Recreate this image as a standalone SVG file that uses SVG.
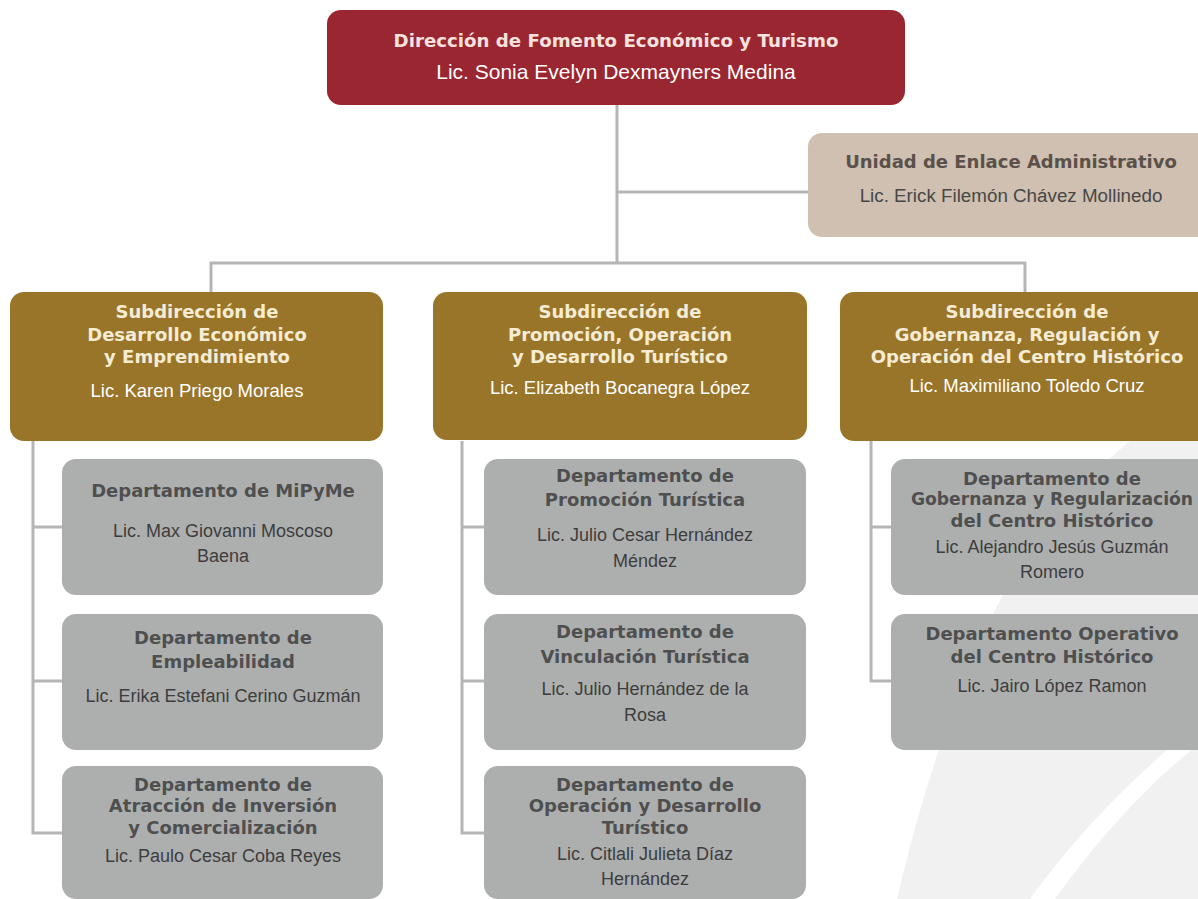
<svg xmlns="http://www.w3.org/2000/svg" width="1198" height="899" viewBox="0 0 1198 899">
<style>
.t{font-family:"DejaVu Sans",sans-serif;font-weight:bold;font-size:18px;text-anchor:middle}
.n{font-family:"Liberation Sans",Arial,sans-serif;font-size:18px;text-anchor:middle}
.top{fill:#9a2631}
.sub{fill:#99752a}
.sub .t{fill:#f6ecd4}
.sub .n{fill:#ffffff;font-size:18.5px}
.dep{fill:#adafaf}
.dep .t,.dt{fill:#4f4f4f}
.dn{fill:#3d3d3d}
.conn{fill:none;stroke:#b5b5b5;stroke-width:3}
</style>
<rect width="1198" height="899" fill="#ffffff"/>
<g id="watermark" fill="#f1f1f1">
<path d="M897,899 C925,780 960,680 1000,600 C1050,510 1120,440 1198,390 L1198,718 L1167,750 C1110,800 1065,850 1030,899 Z"/>
<path d="M1055,899 C1090,850 1140,790 1198,745 L1198,899 Z"/>
</g>
<g id="connectors" class="conn">
<path d="M617,105 V263"/>
<path d="M617,192 H808"/>
<path d="M211,292 V263 H1025 V292"/>
<path d="M33,441 V833 H62 M33,527 H62 M33,681 H62"/>
<path d="M462,441 V833 H484 M462,527 H484 M462,681 H484"/>
<path d="M871,441 V681 H891 M871,527 H891"/>
</g>
<g id="direccion">
<rect class="top" x="327" y="10" width="578" height="95" rx="14"/>
<text class="t" x="616" y="47" fill="#f6e2de" style="font-size:18.2px">Dirección de Fomento Económico y Turismo</text>
<text class="n" x="616" y="79" fill="#ffffff" style="font-size:21px">Lic. Sonia Evelyn Dexmayners Medina</text>
</g>
<g id="unidad">
<rect x="808" y="133" width="407" height="104" rx="14" fill="#cfc0b1"/>
<text class="t" x="1011" y="168" fill="#5b514a">Unidad de Enlace Administrativo</text>
<text class="n" x="1011" y="202" fill="#474747" style="font-size:18.8px">Lic. Erick Filemón Chávez Mollinedo</text>
</g>
<g id="sub1" class="sub">
<rect x="10" y="292" width="373" height="149" rx="14"/>
<text class="t" x="197" y="318">Subdirección de</text>
<text class="t" x="197" y="341">Desarrollo Económico</text>
<text class="t" x="197" y="363">y Emprendimiento</text>
<text class="n" x="197" y="397">Lic. Karen Priego Morales</text>
</g>
<g id="sub2" class="sub">
<rect x="433" y="292" width="374" height="148" rx="14"/>
<text class="t" x="620" y="318">Subdirección de</text>
<text class="t" x="620" y="341">Promoción, Operación</text>
<text class="t" x="620" y="363">y Desarrollo Turístico</text>
<text class="n" x="620" y="394">Lic. Elizabeth Bocanegra López</text>
</g>
<g id="sub3" class="sub">
<rect x="840" y="292" width="374" height="149" rx="14"/>
<text class="t" x="1027" y="318">Subdirección de</text>
<text class="t" x="1027" y="341">Gobernanza, Regulación y</text>
<text class="t" x="1027" y="363">Operación del Centro Histórico</text>
<text class="n" x="1027" y="392">Lic. Maximiliano Toledo Cruz</text>
</g>
<g id="dep-mipyme">
<rect class="dep" x="62" y="459" width="321" height="136" rx="14"/>
<text class="t dt" x="223" y="497">Departamento de MiPyMe</text>
<text class="n dn" x="223" y="537">Lic. Max Giovanni Moscoso</text>
<text class="n dn" x="223" y="562">Baena</text>
</g>
<g id="dep-empleabilidad">
<rect class="dep" x="62" y="614" width="321" height="136" rx="14"/>
<text class="t dt" x="223" y="644">Departamento de</text>
<text class="t dt" x="223" y="668">Empleabilidad</text>
<text class="n dn" x="223" y="702">Lic. Erika Estefani Cerino Guzmán</text>
</g>
<g id="dep-atraccion">
<rect class="dep" x="62" y="766" width="321" height="133" rx="14"/>
<text class="t dt" x="223" y="791">Departamento de</text>
<text class="t dt" x="223" y="812">Atracción de Inversión</text>
<text class="t dt" x="223" y="834">y Comercialización</text>
<text class="n dn" x="223" y="862">Lic. Paulo Cesar Coba Reyes</text>
</g>
<g id="dep-promocion">
<rect class="dep" x="484" y="459" width="322" height="136" rx="14"/>
<text class="t dt" x="645" y="482">Departamento de</text>
<text class="t dt" x="645" y="506">Promoción Turística</text>
<text class="n dn" x="645" y="541">Lic. Julio Cesar Hernández</text>
<text class="n dn" x="645" y="567">Méndez</text>
</g>
<g id="dep-vinculacion">
<rect class="dep" x="484" y="614" width="322" height="136" rx="14"/>
<text class="t dt" x="645" y="638">Departamento de</text>
<text class="t dt" x="645" y="663">Vinculación Turística</text>
<text class="n dn" x="645" y="695">Lic. Julio Hernández de la</text>
<text class="n dn" x="645" y="721">Rosa</text>
</g>
<g id="dep-operacion">
<rect class="dep" x="484" y="766" width="322" height="133" rx="14"/>
<text class="t dt" x="645" y="791">Departamento de</text>
<text class="t dt" x="645" y="812">Operación y Desarrollo</text>
<text class="t dt" x="645" y="834">Turístico</text>
<text class="n dn" x="645" y="860">Lic. Citlali Julieta Díaz</text>
<text class="n dn" x="645" y="885">Hernández</text>
</g>
<g id="dep-gobernanza">
<rect class="dep" x="891" y="459" width="322" height="136" rx="14"/>
<text class="t dt" x="1052" y="485">Departamento de</text>
<text class="t dt" x="1052" y="505" style="font-size:17.2px">Gobernanza y Regularización</text>
<text class="t dt" x="1052" y="527">del Centro Histórico</text>
<text class="n dn" x="1052" y="553">Lic. Alejandro Jesús Guzmán</text>
<text class="n dn" x="1052" y="578">Romero</text>
</g>
<g id="dep-operativo">
<rect class="dep" x="891" y="614" width="322" height="136" rx="14"/>
<text class="t dt" x="1052" y="640">Departamento Operativo</text>
<text class="t dt" x="1052" y="663">del Centro Histórico</text>
<text class="n dn" x="1052" y="692">Lic. Jairo López Ramon</text>
</g>
</svg>
